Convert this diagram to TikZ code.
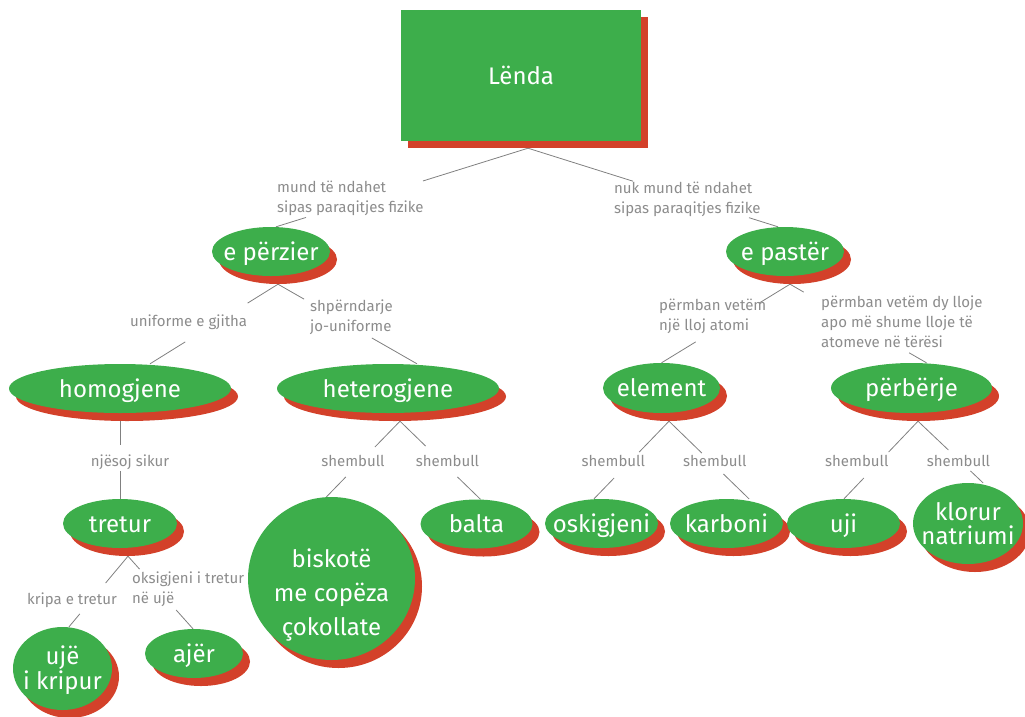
\documentclass[tikz,border=0pt]{standalone}
\usepackage{fontspec}
\setmainfont{Fira Sans}
\usetikzlibrary{shapes.geometric,shadows,calc}
\definecolor{lgreen}{HTML}{3DAE4B}
\definecolor{shred}{HTML}{D3412A}
\definecolor{lblgray}{HTML}{8C8C8C}
\definecolor{lngray}{HTML}{808080}
\pgfdeclarelayer{bg}\pgfsetlayers{bg,main}
\newcommand\gapline[4]{\draw[conn] (#1) -- ($(#1)!#3!(#2)$) ($(#1)!#4!(#2)$) -- (#2);}
\begin{document}
\begin{tikzpicture}[x=1pt,y=-1pt,
 bub/.style={ellipse, fill=lgreen, inner sep=0pt, drop shadow={shadow xshift=7pt, shadow yshift=-8pt, opacity=1, fill=shred}},
 btxt/.style={text=white, font=\fontsize{24}{24}\selectfont, inner sep=0pt, text height=17pt, text depth=0pt},
 btxtm/.style={text=white, inner sep=0pt, align=center},
 lbl/.style={text=lblgray, font=\fontsize{15}{20}\selectfont, inner sep=0pt, align=left},
 conn/.style={draw=lngray, line width=0.8pt}]
\useasboundingbox (0,0) rectangle (1025,716);

% main box
\node[fill=lgreen, minimum width=240pt, minimum height=131pt, inner sep=0pt,
  drop shadow={shadow xshift=7pt, shadow yshift=-7pt, opacity=1, fill=shred},
  label={[btxt]center:Lënda}] (lenda) at (521,75.5) {};

% bubbles
\node[bub, minimum width=118pt, minimum height=49pt, label={[btxt]center:e përzier}] (perz) at (271,251.5) {};
\node[bub, minimum width=118pt, minimum height=49pt, label={[btxt]center:e pastër}] (past) at (785,251.5) {};
\node[bub, minimum width=222pt, minimum height=49pt, label={[btxt]center:homogjene}] (homo) at (120,388.5) {};
\node[bub, minimum width=222pt, minimum height=49pt, label={[btxt]center:heterogjene}] (hetero) at (388,388.5) {};
\node[bub, minimum width=117pt, minimum height=50pt, label={[btxt]center:element}] (elem) at (661.5,388) {};
\node[bub, minimum width=161pt, minimum height=50pt, label={[btxt]center:përbërje}] (perb) at (911.5,388) {};
\node[bub, minimum width=114pt, minimum height=49pt, label={[btxt]center:tretur}] (tretur) at (120,523.5) {};
\node[bub, minimum width=167pt, minimum height=163pt,
  label={[btxtm, font=\fontsize{24}{34}\selectfont, yshift=-17pt]center:{biskotë\\me copëza\\çokollate}}] (bisk) at (331.5,578.5) {};
\node[bub, minimum width=112pt, minimum height=49pt, label={[btxt]center:balta}] (balta) at (476.5,524) {};
\node[bub, minimum width=113pt, minimum height=49pt, label={[btxt]center:oskigjeni}] (osk) at (601.5,523.5) {};
\node[bub, minimum width=113pt, minimum height=49pt, label={[btxt]center:karboni}] (karb) at (726.5,523.5) {};
\node[bub, minimum width=113pt, minimum height=49pt, label={[btxt]center:uji}] (uji) at (843.5,523.5) {};
\node[bub, minimum width=110pt, minimum height=81pt,
  label={[btxtm, font=\fontsize{24}{24}\selectfont]center:{klorur\\natriumi}}] (klor) at (968,523.5) {};
\node[bub, minimum width=99pt, minimum height=83pt,
  label={[btxtm, font=\fontsize{24}{25}\selectfont, yshift=-2pt]center:{ujë\\i kripur}}] (uje) at (62.5,668.5) {};
\node[bub, minimum width=98pt, minimum height=49pt, label={[btxt]center:ajër}] (ajer) at (194,653.5) {};

% edge labels
\node[lbl, anchor=north west] (t1) at (277,181) {mund të ndahet\\sipas paraqitjes fizike};
\node[lbl, anchor=north west] (t2) at (614,182) {nuk mund të ndahet\\sipas paraqitjes fizike};
\node[lbl, anchor=base west] (t3) at (130,326) {uniforme e gjitha};
\node[lbl, anchor=north west] (t4) at (310,300) {shpërndarje\\jo-uniforme};
\node[lbl, anchor=base] (t5) at (130,466) {njësoj sikur};
\node[lbl, anchor=base] (s1) at (353,466) {shembull};
\node[lbl, anchor=base] (s2) at (447.5,466) {shembull};
\node[lbl, anchor=base] (s3) at (613.3,466) {shembull};
\node[lbl, anchor=base] (s4) at (714.8,466) {shembull};
\node[lbl, anchor=base] (s5) at (856.8,466) {shembull};
\node[lbl, anchor=base] (s6) at (958.5,466) {shembull};
\node[lbl, anchor=base west] (t6) at (27,604) {kripa e tretur};
\node[lbl, anchor=north west] (t7) at (132,572) {oksigjeni i tretur\\në ujë};
\node[lbl, anchor=north west] (t8) at (659,299) {përmban vetëm\\një lloj atomi};
\node[lbl, anchor=north west] (t9) at (821,296) {përmban vetëm dy lloje\\apo më shume lloje të\\atomeve në tërësi};

% connector end points
\coordinate (lendaB) at ([shift={(7,7)}]lenda.south);
\coordinate (perzT) at ([xshift=5pt]perz.north);
\coordinate (pastT) at ([xshift=-7pt]past.north);
\coordinate (perzB) at ([shift={(7,8)}]perz.south);
\coordinate (homoT) at ([xshift=30pt]homo.north);
\coordinate (hetT) at ([xshift=29pt]hetero.north);
\coordinate (pastB) at ([shift={(5,8)}]past.south);
\coordinate (elemT) at (elem.north);
\coordinate (perbT) at ([xshift=15pt]perb.north);
\coordinate (hetB) at ([shift={(12,8)}]hetero.south);
\coordinate (biskT) at ([xshift=-5pt]bisk.north);
\coordinate (baltaT) at ([xshift=4pt]balta.north);
\coordinate (tretB) at ([shift={(8,8)}]tretur.south);
\coordinate (ujeT) at ([xshift=6.5pt]uje.north);
\coordinate (ajerT) at ([xshift=-1pt]ajer.north);
\coordinate (elemB) at ([shift={(7.5,8)}]elem.south);
\coordinate (oskT) at ([xshift=-7.5pt]osk.north);
\coordinate (karbT) at ([xshift=22.5pt]karb.north);
\coordinate (perbB) at ([shift={(6.5,8)}]perb.south);
\coordinate (ujiT) at ([xshift=0.5pt]uji.north);
\coordinate (klorT) at ([xshift=15pt]klor.north);

\begin{pgfonlayer}{bg}
\gapline{lendaB}{perzT}{0.417}{0.881}
\gapline{lendaB}{pastT}{0.42}{0.884}
\gapline{perzB}{homoT}{0.2375}{0.725}
\gapline{perzB}{hetT}{0.1875}{0.675}
\gapline{pastB}{elemT}{0.24}{0.734}
\gapline{pastB}{perbT}{0.101}{0.873}
\gapline{homo.south}{tretur.north}{0.372}{0.674}
\gapline{hetB}{biskT}{0.342}{0.737}
\gapline{hetB}{baltaT}{0.318}{0.713}
\gapline{tretB}{ujeT}{0.38}{0.817}
\gapline{tretB}{ajerT}{0.178}{0.74}
\gapline{elemB}{oskT}{0.397}{0.731}
\gapline{elemB}{karbT}{0.41}{0.68}
\gapline{perbB}{ujiT}{0.397}{0.731}
\gapline{perbB}{klorT}{0.468}{0.806}
\end{pgfonlayer}
\end{tikzpicture}
\end{document}
